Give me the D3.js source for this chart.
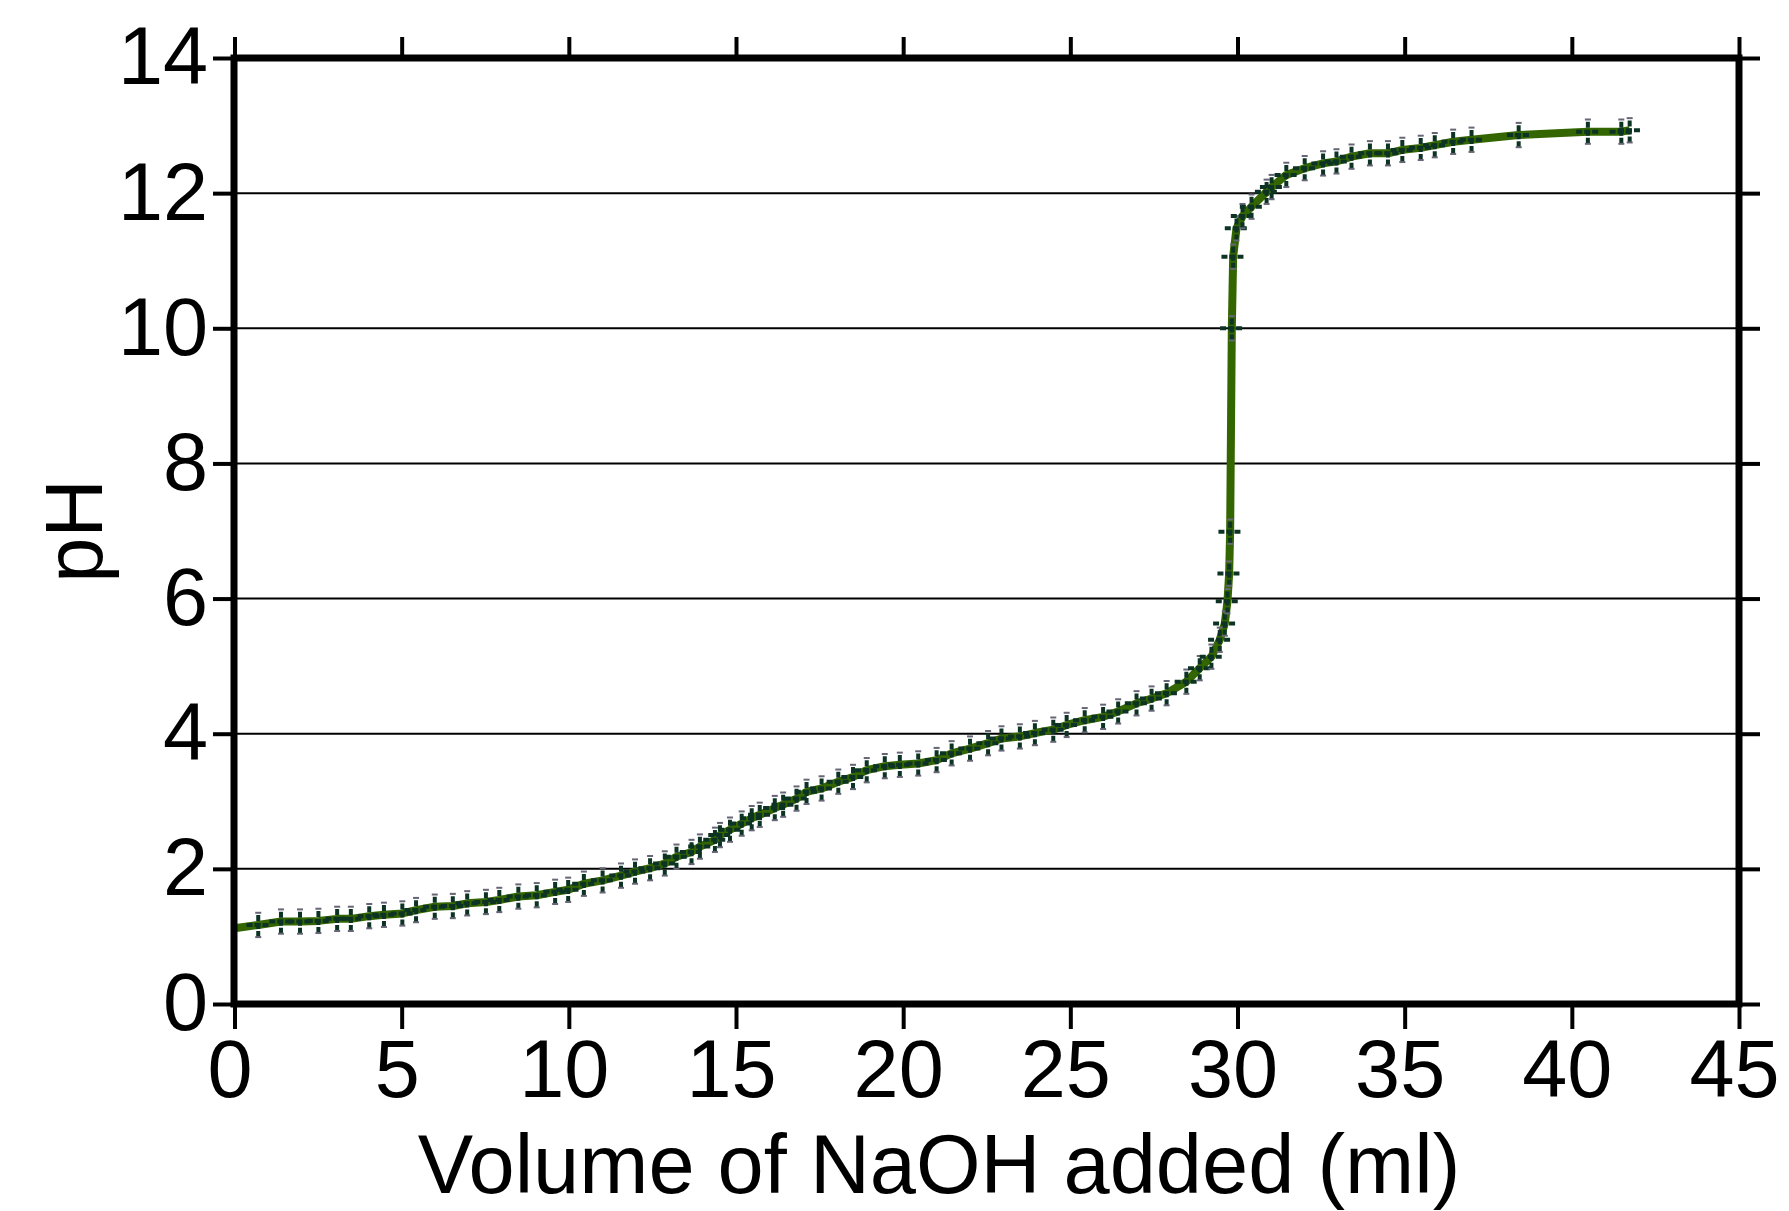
<!DOCTYPE html>
<html>
<head>
<meta charset="utf-8">
<script src="https://cdn.jsdelivr.net/npm/d3@7"></script>
<style>
  html, body { margin: 0; padding: 0; background: #fff; }
  text { font-family: "Liberation Sans", Arial, Helvetica, sans-serif; fill: #000; }
</style>
</head>
<body>
<div id="chart"></div>
<script>
// Titration readings: volume of NaOH added (ml) and the measured pH
var volume = [0, 0.71, 1.39, 1.96, 2.51, 3.07, 3.48, 4.03, 4.47, 5.02,
    5.43, 5.99, 6.53, 6.96, 7.52, 7.92, 8.49, 9.04, 9.59,
    9.98, 10.45, 11.01, 11.56, 11.98, 12.43, 12.87, 13.22, 13.67, 13.92,
    14.37, 14.52, 14.82, 15.17, 15.47, 15.71, 16.16, 16.41, 16.81, 17.11,
    17.56, 18.06, 18.50, 18.91, 19.45, 19.90,
    20.45, 21.0, 21.45, 22.0,
    22.54, 22.94, 23.49, 23.94, 24.49, 24.89, 25.43, 25.98, 26.43, 26.98,
    27.43, 27.88, 28.47, 28.87, 29.22, 29.47, 29.62, 29.70, 29.75, 29.78,
    29.83, 29.87, 29.97, 30.15, 30.42, 30.87, 31.02, 31.46, 32.01,
    32.56, 32.96, 33.41, 33.96, 34.50, 34.93, 35.48, 35.90, 36.45, 37.0,
    38.41, 40.48, 41.48, 41.73];

var pH = [1.12, 1.17, 1.22, 1.22, 1.23, 1.26, 1.26, 1.30, 1.32, 1.34,
    1.39, 1.44, 1.45, 1.49, 1.51, 1.54, 1.59, 1.61, 1.66,
    1.69, 1.78, 1.83, 1.90, 1.96, 2.01, 2.08, 2.18, 2.25, 2.33,
    2.43, 2.50, 2.58, 2.67, 2.75, 2.80, 2.90, 2.95, 3.04, 3.14,
    3.19, 3.29, 3.36, 3.46, 3.52, 3.54,
    3.56, 3.61, 3.71, 3.78,
    3.86, 3.93, 3.96, 4.01, 4.06, 4.13, 4.20, 4.25, 4.33, 4.45,
    4.52, 4.60, 4.77, 4.97, 5.14, 5.39, 5.63, 5.96, 6.37, 6.99,
    10.0, 11.06, 11.48, 11.66, 11.80, 12.02, 12.09, 12.27, 12.37,
    12.44, 12.47, 12.54, 12.59, 12.59, 12.64, 12.67, 12.71, 12.76, 12.79,
    12.86, 12.91, 12.91, 12.93];

// error on each reading
var volumeErr = 0.35;
var pHErr = 0.18;

// axis ticks
var xTicks = [0, 5, 10, 15, 20, 25, 30, 35, 40, 45];
var yTicks = [0, 2, 4, 6, 8, 10, 12, 14];

var W = 1789, H = 1211;
var plotLeft = 234, plotRight = 1739, plotTop = 58, plotBottom = 1004;

var svg = d3.select("#chart").append("svg")
    .attr("width", W)
    .attr("height", H);

svg.append("rect").attr("width", W).attr("height", H).attr("fill", "#fff");

var x = d3.scaleLinear().domain([0, 45]).range([plotLeft + 0.5, plotRight]);
var y = d3.scaleLinear().domain([0, 14]).range([plotBottom, plotTop]);

// horizontal grid lines
svg.append("g")
    .selectAll("line")
    .data(yTicks.slice(1, -1))
    .enter()
    .append("line")
    .attr("x1", plotLeft)
    .attr("x2", plotRight)
    .attr("y1", function(d) { return y(d); })
    .attr("y2", function(d) { return y(d); })
    .attr("stroke", "#000")
    .attr("stroke-width", 2);

var points = volume.map(function(v, i) { return { v: v, p: pH[i] }; });

// the titration curve
var line = d3.line()
    .x(function(d) { return x(d.v); })
    .y(function(d) { return y(d.p); });

svg.append("path")
    .datum(points)
    .attr("d", line)
    .attr("fill", "none")
    .attr("stroke", "#336600")
    .attr("stroke-width", 8)
    .attr("stroke-linejoin", "round");

// error bars
var bars = svg.append("g")
    .selectAll("g")
    .data(points.slice(1))
    .enter()
    .append("g");

bars.append("line")
    .attr("x1", function(d) { return x(d.v); })
    .attr("x2", function(d) { return x(d.v); })
    .attr("y1", function(d) { return y(d.p - pHErr); })
    .attr("y2", function(d) { return y(d.p + pHErr); })
    .attr("stroke", "#0c3324")
    .attr("stroke-width", 4)
    .attr("stroke-dasharray", "6,2");

bars.append("line")
    .attr("x1", function(d) { return x(d.v - volumeErr); })
    .attr("x2", function(d) { return x(d.v + volumeErr); })
    .attr("y1", function(d) { return y(d.p); })
    .attr("y2", function(d) { return y(d.p); })
    .attr("stroke", "#0c3324")
    .attr("stroke-width", 4)
    .attr("stroke-dasharray", "6,2");

// little caps on the vertical bars
[-pHErr, pHErr].forEach(function(e) {
    bars.append("line")
        .attr("x1", function(d) { return x(d.v) - 3; })
        .attr("x2", function(d) { return x(d.v) + 3; })
        .attr("y1", function(d) { return y(d.p + e); })
        .attr("y2", function(d) { return y(d.p + e); })
        .attr("stroke", "#667")
        .attr("stroke-width", 2);
});

// axes with outward ticks on all four sides
function styleAxis(g) {
    g.select(".domain").remove();
    g.selectAll(".tick line").attr("stroke", "#000").attr("stroke-width", 4);
    g.selectAll(".tick text").style("font-size", "81px");
}

svg.append("g")
    .attr("transform", "translate(0," + plotBottom + ")")
    .call(d3.axisBottom(x).tickValues(xTicks).tickSize(25).tickPadding(10).tickFormat(d3.format("d")))
    .call(styleAxis)
    .selectAll(".tick text").attr("dx", -5);

svg.append("g")
    .attr("transform", "translate(0," + plotTop + ")")
    .call(d3.axisTop(x).tickValues(xTicks).tickSize(21).tickFormat(""))
    .call(styleAxis);

svg.append("g")
    .attr("transform", "translate(" + plotLeft + ",0)")
    .call(d3.axisLeft(y).tickValues(yTicks).tickSize(21).tickPadding(5).tickFormat(d3.format("d")))
    .call(styleAxis);

svg.append("g")
    .attr("transform", "translate(" + plotRight + ",0)")
    .call(d3.axisRight(y).tickValues(yTicks).tickSize(21).tickFormat(""))
    .call(styleAxis);

// frame
svg.append("rect")
    .attr("x", plotLeft)
    .attr("y", plotTop)
    .attr("width", plotRight - plotLeft)
    .attr("height", plotBottom - plotTop)
    .attr("fill", "none")
    .attr("stroke", "#000")
    .attr("stroke-width", 7);

// axis titles
svg.append("text")
    .attr("x", 939)
    .attr("y", 1193)
    .attr("text-anchor", "middle")
    .style("font-size", "83px")
    .text("Volume of NaOH added (ml)");

svg.append("text")
    .attr("transform", "translate(102," + ((plotTop + plotBottom) / 2) + ") rotate(-90)")
    .attr("text-anchor", "middle")
    .style("font-size", "81px")
    .text("pH");
</script>
</body>
</html>
